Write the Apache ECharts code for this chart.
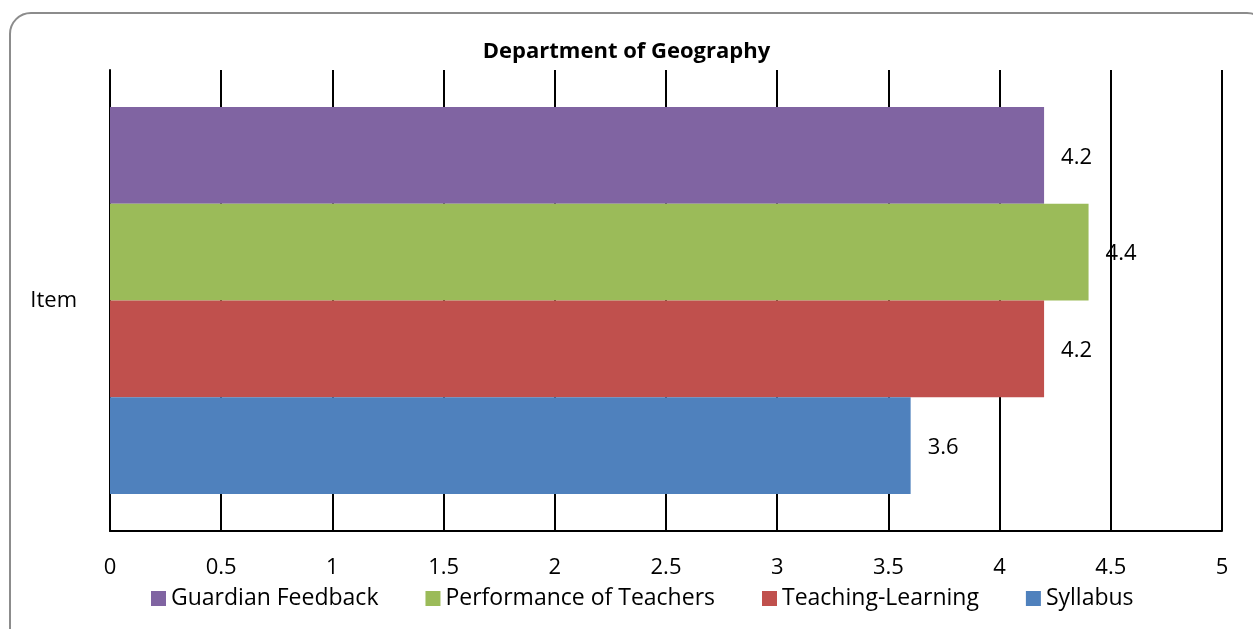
<!DOCTYPE html>
<html>
<head>
<meta charset="utf-8">
<script src="https://cdn.jsdelivr.net/npm/echarts@6/dist/echarts.min.js"></script>
<style>
  html, body { margin: 0; padding: 0; background: #fff; overflow: hidden; }
  .frame {
    position: absolute; left: 9px; top: 12px; width: 1260px; height: 640px;
    border: 2px solid #8c8c8c; border-radius: 22px; box-sizing: border-box;
  }
  #chart { position: absolute; left: 0; top: 0; width: 1253px; height: 629px; }
</style>
</head>
<body>
<div class="frame"></div>
<div id="chart"></div>
<script>
// categories and series values
const categories = ['Item']
// listed top bar first
const seriesNames = ['Guardian Feedback', 'Performance of Teachers', 'Teaching-Learning', 'Syllabus']
const seriesColors = ['#8064a2', '#9bbb59', '#c0504d', '#4f81bd']
const guardianFeedback = [4.2]
const performanceOfTeachers = [4.4]
const teachingLearning = [4.2]
const syllabus = [3.6]
const seriesValues = [guardianFeedback, performanceOfTeachers, teachingLearning, syllabus]

const font = '"Open Sans", sans-serif'
const myChart = echarts.init(document.getElementById('chart'))

const option = {
  animation: false,
  title: {
    text: 'Department of Geography',
    left: 'center',
    top: 36,
    textStyle: { fontFamily: font, fontSize: 22, fontWeight: 'bold', color: '#000' }
  },
  legend: {
    bottom: 14,
    left: 146,
    data: seriesNames,
    icon: 'rect',
    itemWidth: 15,
    itemHeight: 15,
    itemGap: 47,
    textStyle: { fontFamily: font, fontSize: 23, color: '#000' }
  },
  grid: { left: 110, right: 31, top: 70, bottom: 98 },
  xAxis: {
    type: 'value',
    min: 0,
    max: 5,
    interval: 0.5,
    axisLine: { show: true, lineStyle: { color: '#000', width: 2 } },
    axisTick: { show: false },
    splitLine: { show: true, lineStyle: { color: '#000', width: 2 } },
    axisLabel: { fontFamily: font, fontSize: 22, color: '#000', margin: 26 }
  },
  yAxis: {
    type: 'category',
    data: categories,
    axisLine: { show: true, lineStyle: { color: '#000', width: 2 } },
    axisTick: { show: false },
    axisLabel: { fontFamily: font, fontSize: 22, color: '#000', margin: 33 }
  },
  series: seriesNames.map((name, i) => ({
    name: name,
    type: 'bar',
    data: seriesValues[i],
    barGap: 0,
    barCategoryGap: '16%',
    itemStyle: { color: seriesColors[i] },
    label: {
      show: true,
      position: 'right',
      distance: 17,
      offset: [0, 2],
      fontFamily: font,
      fontSize: 22,
      color: '#000'
    }
  }))
}
myChart.setOption(option)
</script>
</body>
</html>
